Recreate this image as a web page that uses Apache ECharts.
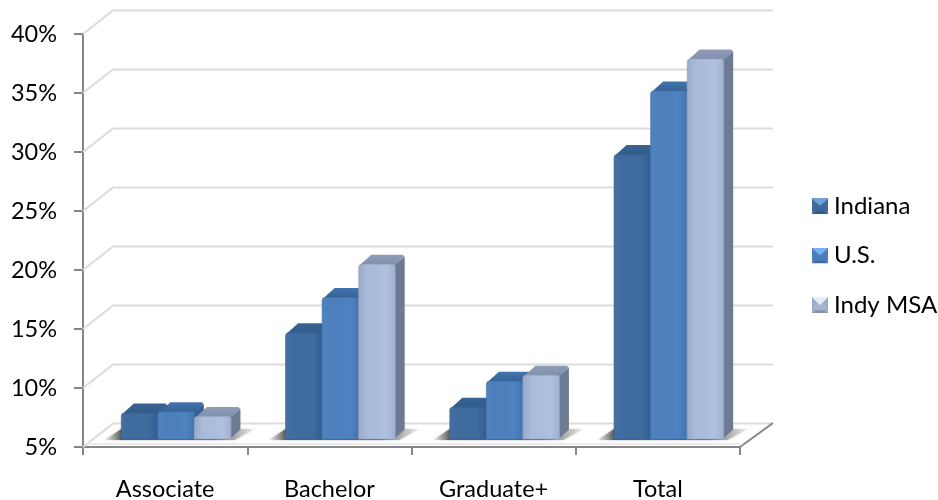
<!DOCTYPE html>
<html><head><meta charset="utf-8">
<style>html,body{margin:0;padding:0;background:#fff}#c{width:938px;height:500px}</style>
<script src="https://cdn.jsdelivr.net/npm/echarts@6/dist/echarts.min.js"></script>
</head><body><div id="c"></div>
<script>
const categories = ['Associate','Bachelor','Graduate+','Total'];
const indiana = [7.2,14.0,7.7,29.1];
const us = [7.3,17.0,9.9,34.5];
const indyMsa = [6.9,19.8,10.4,37.2];
const wallTicks = [5,10,15,20,25,30,35,40];
const names = ['Indiana','U.S.','Indy MSA'];

const FONT = 'Lato';
const grad = (x,y,x2,y2,stops)=>new echarts.graphic.LinearGradient(x,y,x2,y2,stops.map((c,i)=>({offset:i/(stops.length-1),color:c})));
const palette = [
 {front:['#44719f','#3f6b9f','#3f6b9f','#3f6b9f','#335c8c'],top:['#386493','#2f5a8a'],side:'#2f5581',edge:'#36608f'},
 {front:['#4f82bf','#4c7fbc','#4c7fbc','#4f83c1','#4274ae'],top:['#4374ad','#345f90'],side:'#345f90',edge:'#4476b0'},
 {front:['#98a8c6','#abbcda','#abbcda','#b0c1df','#a0b0ce'],top:['#8f9cb7','#7f8ea9'],side:'#6d7b92',edge:'#98a8c6'}
];
const BAR_RATIO = 0.2225, OFF_X = 11, OFF_Y = -8, DX = 10.5, DY = -9.5;

function barRender(sIdx){
  return function(params, api){
    const c = api.coord([api.value(0), api.value(1)]);
    const base = api.coord([api.value(0), 5]);
    const w = api.size([1,0])[0]*BAR_RATIO;
    const x = c[0]+OFF_X+(sIdx-1.5)*w, y = c[1]+OFF_Y, b = base[1]+OFF_Y;
    const p = palette[sIdx];
    return {type:'group',children:[
      {type:'polygon',shape:{points:[[x+w-1,y+1],[x+w-1+DX,y+DY+2],[x+w-1+DX,b+DY],[x+w-1,b]]},style:{fill:p.side}},
      {type:'polygon',shape:{points:[[x+1,y+1],[x+DX+2,y+DY],[x+w+DX-3,y+DY],[x+w+DX-1,y+DY+2],[x+w-1,y+2]]},
        style:{fill:grad(0,0,0,1,p.top)}},
      {type:'rect',shape:{x:x,y:y,width:w,height:b-y,r:[3,3,0,0]},style:{fill:grad(0,0,1,0,p.front),stroke:p.edge,lineWidth:0.6}}
    ]};
  };
}
function wallRender(params, api){
  const v = api.value(1);
  const l = api.coord([0,v]), r = api.coord([categories.length-1,v]);
  const half = api.size([1,0])[0]/2;
  const x0 = l[0]-half, x1 = r[0]+half, y = l[1];
  const stroke = '#dcdcdc';
  const kids = [{type:'polyline',shape:{points:[[x0,y],[x0+30,y-23.5],[x1+33,y-23.5]]},style:{fill:null,stroke:stroke,lineWidth:2}}];
  if(v===wallTicks[0]){
    kids.push({type:'line',shape:{x1:x1,y1:y,x2:x1+33,y2:y-24},style:{stroke:'#868686',lineWidth:2}});
    kids.push({type:'line',shape:{x1:x0+4,y1:y-3,x2:x1+3,y2:y-3},style:{stroke:'#e4e4e4',lineWidth:1.5}});
  }
  return {type:'group',children:kids};
}
function shadowRender(params, api){
  const c = api.coord([api.value(0),5]);
  const w = api.size([1,0])[0]*BAR_RATIO;
  const x0 = c[0]+OFF_X-1.5*w, x1 = c[0]+OFF_X+1.5*w, b = c[1]+OFF_Y+1;
  return {type:'polygon',shape:{points:[[x0-17,b],[x0,b-11],[x1+24,b-11],[x1+4,b]]},
    style:{shadowBlur:3,shadowColor:'rgba(120,120,120,0.5)',fill:new echarts.graphic.LinearGradient(0,0,1,0,[
      {offset:0,color:'rgba(170,170,170,0.15)'},{offset:0.11,color:'rgba(95,95,95,1)'},
      {offset:0.74,color:'rgba(100,100,100,1)'},{offset:1,color:'rgba(185,185,185,0.2)'}])}};
}
function bevelIcon(top,left,right,bottom,centre){
  const svg = "<svg xmlns='http://www.w3.org/2000/svg' width='48' height='48'>"
   +"<polygon points='0,0 48,0 24,24' fill='"+top+"'/>"
   +"<polygon points='0,0 0,48 24,24' fill='"+left+"'/>"
   +"<polygon points='48,0 48,48 24,24' fill='"+right+"'/>"
   +"<polygon points='0,48 48,48 24,24' fill='"+bottom+"'/>"
   +"<rect x='7' y='16' width='34' height='24' fill='"+centre+"'/>"
   +"<polygon points='5,5 43,5 24,24' fill='"+top+"'/></svg>";
  return 'image://data:image/svg+xml,'+encodeURIComponent(svg);
}
const legendIcons = [
  bevelIcon('#6f9fd8','#3f6c9f','#3f6c9f','#2f5a8a','#3c689a'),
  bevelIcon('#74b0f0','#4c7fbc','#4c7fbc','#3c6ba3','#4a7db9'),
  bevelIcon('#e6edf8','#9aa9c6','#9aa9c6','#8493ad','#a5b3cf')
];
const legendFlat = ['#3f6b9f','#4c7fbc','#abbcda'];
const barSeries = [indiana,us,indyMsa].map((vals,i)=>({
  name:names[i],type:'custom',coordinateSystem:'cartesian2d',z:5+i,clip:false,
  itemStyle:{color:legendFlat[i]},
  encode:{x:0,y:1},renderItem:barRender(i),data:vals.map((v,j)=>[j,v])
}));
const chart = echarts.init(document.getElementById('c'),null,{renderer:'canvas'});
chart.setOption({
  animation:false,backgroundColor:'#fff',
  grid:{left:83,right:198,top:34,bottom:53,containLabel:false,outerBoundsMode:'none'},
  legend:{orient:'vertical',left:807,top:189,itemWidth:16,itemHeight:16,itemGap:25.5,
    data:names.map((n,i)=>({name:n,icon:legendIcons[i]})),
    textStyle:{fontFamily:FONT,fontSize:24,color:'#000',padding:[0,0,0,1]}},
  xAxis:{type:'category',data:categories,boundaryGap:true,
    axisLine:{lineStyle:{color:'#868686',width:2}},
    axisTick:{show:true,alignWithLabel:false,length:8,lineStyle:{color:'#868686',width:2}},
    axisLabel:{fontFamily:FONT,fontSize:23.5,color:'#000',margin:30},splitLine:{show:false}},
  yAxis:{type:'value',min:5,max:40,interval:5,
    axisLine:{show:true,lineStyle:{color:'#868686',width:2}},
    axisTick:{show:true,length:9,lineStyle:{color:'#868686',width:2}},
    axisLabel:{fontFamily:FONT,fontSize:23.5,color:'#000',margin:26,formatter:'{value}%'},splitLine:{show:false}},
  series:[
    {name:'wall',type:'custom',z:1,clip:false,encode:{x:0,y:1},renderItem:wallRender,data:wallTicks.map(v=>[0,v])},
    {name:'floorShadow',type:'custom',z:2,clip:false,encode:{x:0,y:1},renderItem:shadowRender,data:categories.map((c,j)=>[j,5])},
    ...barSeries
  ]
});
</script></body></html>
